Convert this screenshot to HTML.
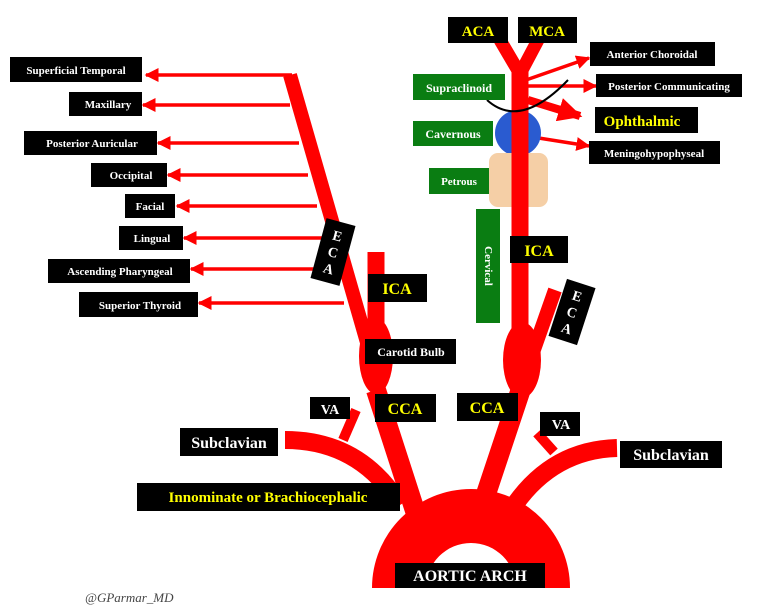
<!DOCTYPE html>
<html><head><meta charset="utf-8"><style>
html,body{margin:0;padding:0;background:#fff;}
svg{display:block;font-family:"Liberation Serif",serif;}
</style></head><body>
<svg width="773" height="606" viewBox="0 0 773 606" xmlns="http://www.w3.org/2000/svg">
<defs>
<marker id="ah" viewBox="0 0 10 10" refX="9" refY="5" markerWidth="4" markerHeight="4" orient="auto-start-reverse"><path d="M0,0L10,5L0,10z" fill="#f00"/></marker>
<marker id="ah2" viewBox="0 0 10 10" refX="9" refY="5" markerWidth="3" markerHeight="3" orient="auto"><path d="M0,0L10,5L0,10z" fill="#f00"/></marker>
</defs>
<g fill="none" stroke="#f00">
<path d="M372,588 A99,99 0 0 1 570,588 L516,588 A45,45 0 0 0 426,588 Z" fill="#f00" stroke="none"/>
<path d="M400,505 Q360,440 285,440" stroke-width="18"/>
<path d="M505,520 Q545,450 617,448" stroke-width="18"/>
<path d="M343,440 L356,410" stroke-width="10"/>
<path d="M554,452 L537,433" stroke-width="10"/>
<path d="M376,390 L418,520" stroke-width="20"/>
<path d="M290,75 L372,360" stroke-width="14"/>
<path d="M376,252 L376,360" stroke-width="17"/>
<path d="M524,380 L478,518" stroke-width="20"/>
<path d="M520,210 L520,375" stroke-width="17"/>
<path d="M518,395 L555,290" stroke-width="14"/>
<g stroke-width="3.5" marker-end="url(#ah)">
<path d="M292,75 L146,75"/>
<path d="M290,105 L143,105"/>
<path d="M299,143 L158,143"/>
<path d="M308,175 L168,175"/>
<path d="M317,206 L177,206"/>
<path d="M326,238 L184,238"/>
<path d="M334,269 L191,269"/>
<path d="M344,303 L199,303"/>
</g>
<g stroke-width="3.5" marker-end="url(#ah)">
<path d="M526,80 L589,58"/>
<path d="M528,86 L596,86"/>
<path d="M526,136 L589,146"/>
</g>
<path d="M528,100 L580,116" stroke-width="8" marker-end="url(#ah2)"/>
</g>
<ellipse cx="376" cy="356" rx="17" ry="38" fill="#f00"/>
<ellipse cx="522" cy="360" rx="19" ry="38" fill="#f00"/>
<circle cx="518" cy="133" r="23" fill="#2a5bd0"/>
<rect x="489" y="153" width="59" height="54" rx="9" fill="#f5cfa6"/>
<g fill="none" stroke="#f00">
<path d="M520,68 L520,212" stroke-width="17"/>
<path d="M520,74 L500,40 M520,74 L538,40" stroke-width="13"/>
</g>
<path d="M487,100 Q520,130 568,80" fill="none" stroke="#000" stroke-width="2"/>

<g fill="#000">
<rect x="10" y="57" width="132" height="25"/>
<rect x="69" y="92" width="73" height="24"/>
<rect x="24" y="131" width="133" height="24"/>
<rect x="91" y="163" width="76" height="24"/>
<rect x="125" y="194" width="50" height="24"/>
<rect x="119" y="226" width="64" height="24"/>
<rect x="48" y="259" width="142" height="24"/>
<rect x="79" y="292" width="119" height="25"/>
<rect x="368" y="274" width="59" height="28"/>
<rect x="365" y="339" width="91" height="25"/>
<rect x="375" y="394" width="61" height="28"/>
<rect x="310" y="397" width="40" height="22"/>
<rect x="180" y="428" width="98" height="28"/>
<rect x="137" y="483" width="263" height="28"/>
<rect x="395" y="563" width="150" height="25"/>
<rect x="457" y="393" width="61" height="28"/>
<rect x="540" y="412" width="40" height="24"/>
<rect x="620" y="441" width="102" height="27"/>
<rect x="510" y="236" width="58" height="27"/>
<rect x="448" y="17" width="60" height="26"/>
<rect x="518" y="17" width="59" height="26"/>
<rect x="590" y="42" width="125" height="24"/>
<rect x="596" y="74" width="146" height="23"/>
<rect x="595" y="107" width="103" height="26"/>
<rect x="589" y="141" width="131" height="23"/>
<rect x="318" y="221" width="30" height="62" transform="rotate(15 333 252)"/>
<rect x="557" y="282" width="30" height="60" transform="rotate(18 572 312)"/>
</g>
<g fill="#0a7d12">
<rect x="413" y="74" width="92" height="26"/>
<rect x="413" y="121" width="80" height="25"/>
<rect x="429" y="168" width="60" height="26"/>
<rect x="476" y="209" width="24" height="114"/>
</g>
<g fill="#fff" font-size="11" text-anchor="middle" font-weight="bold">
<text x="76" y="74">Superficial Temporal</text>
<text x="108" y="108">Maxillary</text>
<text x="92" y="147">Posterior Auricular</text>
<text x="131" y="179">Occipital</text>
<text x="150" y="210">Facial</text>
<text x="152" y="242">Lingual</text>
<text x="120" y="275">Ascending Pharyngeal</text>
<text x="140" y="309">Superior Thyroid</text>
<text x="411" y="356" font-size="12">Carotid Bulb</text>
<text x="330" y="414" font-size="14">VA</text>
<text x="561" y="429" font-size="14">VA</text>
<text x="229" y="448" font-size="16">Subclavian</text>
<text x="671" y="460" font-size="16">Subclavian</text>
<text x="470" y="581" font-size="16">AORTIC ARCH</text>
<text x="652" y="58">Anterior Choroidal</text>
<text x="669" y="90">Posterior Communicating</text>
<text x="654" y="157">Meningohypophyseal</text>
<text x="459" y="92" font-size="12">Supraclinoid</text>
<text x="453" y="138" font-size="12">Cavernous</text>
<text x="459" y="185" font-size="11">Petrous</text>
<text transform="translate(485,266) rotate(90)" font-size="11">Cervical</text>
<g font-size="14"><text x="333" y="240" transform="rotate(15 333 252)">E</text><text x="333" y="257" transform="rotate(15 333 252)">C</text><text x="333" y="274" transform="rotate(15 333 252)">A</text>
<text x="572" y="300" transform="rotate(18 572 312)">E</text><text x="572" y="317" transform="rotate(18 572 312)">C</text><text x="572" y="334" transform="rotate(18 572 312)">A</text></g>
</g>
<g fill="#ffff00" font-size="16" text-anchor="middle" font-weight="bold">
<text x="397" y="294">ICA</text>
<text x="405" y="414">CCA</text>
<text x="487" y="413">CCA</text>
<text x="539" y="256">ICA</text>
<text x="478" y="36" font-size="15">ACA</text>
<text x="547" y="36" font-size="15">MCA</text>
<text x="642" y="126" font-size="15">Ophthalmic</text>
<text x="268" y="502" font-size="15">Innominate or Brachiocephalic</text>
</g>
<text x="85" y="602" font-size="13" font-style="italic" fill="#444">@GParmar_MD</text>
</svg>
</body></html>
